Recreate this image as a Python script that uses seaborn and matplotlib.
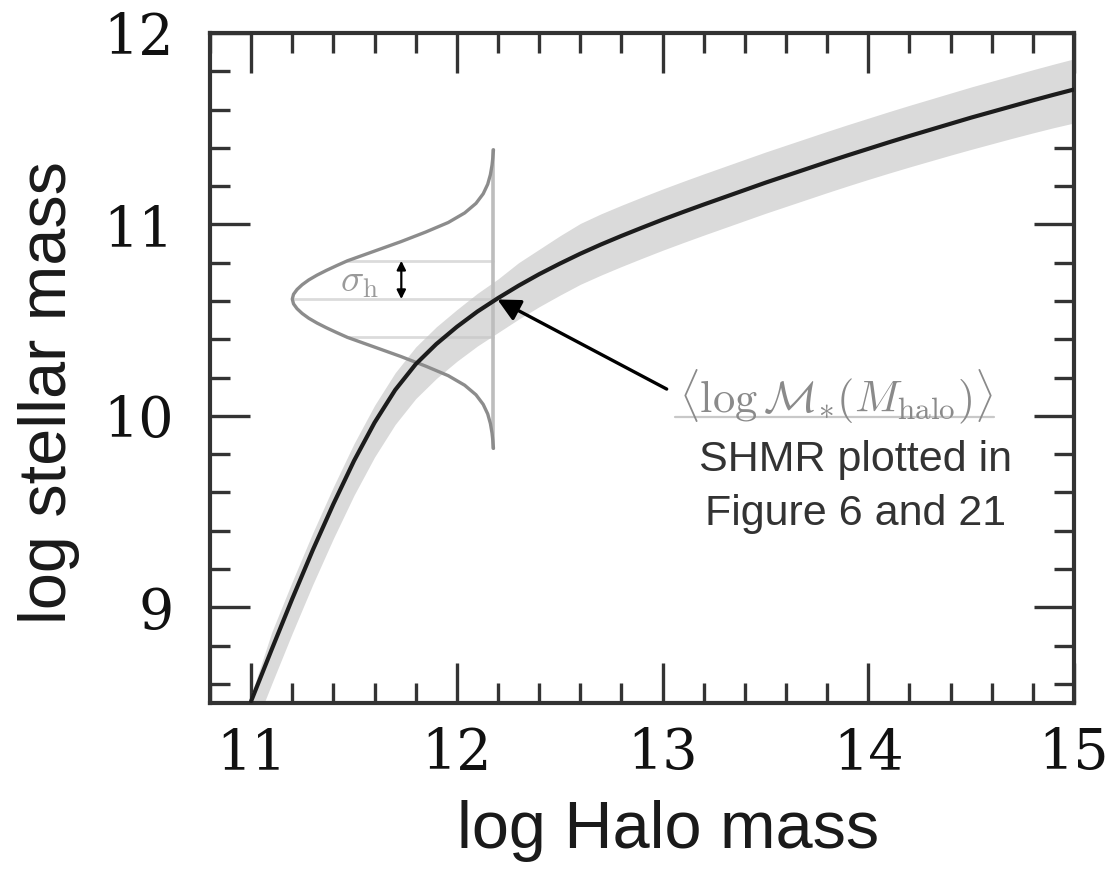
import numpy as np
import pandas as pd
import matplotlib
matplotlib.use("Agg")
import matplotlib.pyplot as plt
import seaborn as sns
from matplotlib.ticker import MultipleLocator

# ---- data ----
halo_mass = [11.0, 11.1, 11.2, 11.3, 11.4, 11.5, 11.6, 11.7, 11.8, 11.9,
             12.0, 12.1, 12.2, 12.3, 12.4, 12.5, 12.6, 12.7, 12.8, 12.9,
             13.0, 13.1, 13.2, 13.3, 13.4, 13.5, 13.6, 13.7, 13.8, 13.9,
             14.0, 14.1, 14.2, 14.3, 14.4, 14.5, 14.6, 14.7, 14.8, 14.9, 15.0]
stellar_mass = [8.51, 8.78, 9.045, 9.30, 9.54, 9.765, 9.965, 10.135, 10.27, 10.375,
                10.465, 10.545, 10.615, 10.68, 10.74, 10.795, 10.847, 10.895, 10.94, 10.983,
                11.025, 11.065, 11.104, 11.142, 11.180, 11.218, 11.254, 11.290, 11.326, 11.361,
                11.395, 11.429, 11.462, 11.494, 11.526, 11.558, 11.588, 11.618, 11.648, 11.677, 11.705]
band_upper = [8.54, 8.87, 9.135, 9.39, 9.63, 9.855, 10.055, 10.225, 10.36, 10.465,
              10.555, 10.64, 10.715, 10.80, 10.87, 10.94, 11.005, 11.055, 11.10, 11.143,
              11.185, 11.225, 11.264, 11.302, 11.340, 11.378, 11.414, 11.450, 11.486, 11.521,
              11.555, 11.589, 11.622, 11.654, 11.686, 11.718, 11.748, 11.778, 11.808, 11.837, 11.865]
band_lower = [8.33, 8.60, 8.865, 9.12, 9.36, 9.585, 9.785, 9.955, 10.09, 10.195,
              10.285, 10.365, 10.435, 10.505, 10.57, 10.63, 10.687, 10.735, 10.78, 10.823,
              10.865, 10.905, 10.944, 10.982, 11.020, 11.058, 11.094, 11.130, 11.166, 11.201,
              11.235, 11.268, 11.300, 11.331, 11.362, 11.392, 11.421, 11.450, 11.478, 11.505, 11.530]

# schematic scatter distribution drawn at one halo mass (symmetric profile)
gauss_x0 = 12.178
gauss_y0 = 10.61
gauss_dy_half = [0.0, 0.025, 0.05, 0.075, 0.1, 0.125, 0.15, 0.175, 0.2, 0.25,
                 0.3, 0.35, 0.4, 0.45, 0.5, 0.55, 0.6, 0.65, 0.7, 0.74, 0.78]
gauss_offset_half = [0.978, 0.972, 0.955, 0.930, 0.898, 0.858, 0.812, 0.762, 0.71, 0.58,
                     0.45, 0.33, 0.22, 0.14, 0.085, 0.05, 0.028, 0.015, 0.007, 0.003, 0.0]
sigma_h = 0.20

x_ticks = [11, 12, 13, 14, 15]
y_ticks = [9, 10, 11, 12]

# ---- figure ----
sns.set_theme(style="ticks")
plt.rcParams["font.family"] = ["Liberation Sans", "DejaVu Sans"]
plt.rcParams["mathtext.fontset"] = "cm"

fig = plt.figure(figsize=(11.16, 8.76), dpi=100)
ax = fig.add_axes([210 / 1116, 173 / 876, 864 / 1116, 670 / 876])

df = pd.DataFrame({"halo": halo_mass, "stellar": stellar_mass,
                   "lo": band_lower, "hi": band_upper})

ax.fill_between(df["halo"], df["lo"], df["hi"], color="#dadada", lw=0, zorder=1)

# full symmetric profile (mirror of the read half)
dy_full = [-d for d in gauss_dy_half[::-1]] + gauss_dy_half[1:]
off_full = gauss_offset_half[::-1] + gauss_offset_half[1:]
gdf = pd.DataFrame({"dy": dy_full, "off": off_full})
gdf["x"] = gauss_x0 - gdf["off"]
gdf["y"] = gauss_y0 + gdf["dy"]

# sigma lines
for level in (-1, 0, 1):
    yy = gauss_y0 + level * sigma_h
    xstart = np.interp(yy, gdf["y"], gdf["x"])
    ax.plot([xstart, gauss_x0], [yy, yy], color="#c4c4c4", lw=2.0, alpha=0.6, zorder=2)

ax.plot([gauss_x0, gauss_x0], [gauss_y0 - gauss_dy_half[-1], gauss_y0 + gauss_dy_half[-1]],
        color="#bdbdbd", lw=2.6, zorder=2)
sns.lineplot(data=gdf, x="x", y="y", sort=False, estimator=None, ax=ax,
             color="#8c8c8c", lw=2.4, zorder=3)

sns.lineplot(data=df, x="halo", y="stellar", sort=False, estimator=None, ax=ax,
             color="#1c1c1c", lw=3.0, zorder=4)

# sigma_h annotation
ax.annotate("", xy=(11.73, gauss_y0 + sigma_h), xytext=(11.73, gauss_y0),
            arrowprops=dict(arrowstyle="<|-|>", color="black", lw=1.6,
                            mutation_scale=13, shrinkA=0, shrinkB=0), zorder=5)
ax.text(11.43, 10.70, r"$\sigma_{\rm h}$", color="#9a9a9a", fontsize=28,
        ha="left", va="center", zorder=5)

# mean relation annotation
ax.annotate("", xy=(12.197, 10.608), xytext=(13.02, 10.14),
            arrowprops=dict(arrowstyle="-|>", color="black", lw=2.4,
                            mutation_scale=34, shrinkA=0, shrinkB=0), zorder=6)
ax.text(13.08, 10.10, r"$\langle\log\mathcal{M}_{*}(M_{\rm halo})\rangle$",
        color="#8a8a8a", fontsize=32, ha="left", va="center")
ax.plot([13.06, 14.61], [9.995, 9.995], color="#c8c8c8", lw=1.6)
ax.text(13.94, 9.63, "SHMR plotted in\nFigure 6 and 21", color="#333333",
        fontsize=31, ha="center", va="center", linespacing=1.45)

# axes
ax.set_xlim(10.8, 15.0)
ax.set_ylim(8.5, 12.0)
ax.set_xticks(x_ticks)
ax.set_yticks(y_ticks)
ax.xaxis.set_minor_locator(MultipleLocator(0.2))
ax.yaxis.set_minor_locator(MultipleLocator(0.2))
ax.tick_params(which="both", direction="in", top=True, right=True,
               color="#333333", width=2.4, labelcolor="#111111")
ax.tick_params(which="major", length=29, labelsize=40)
ax.tick_params(which="minor", length=14.5)
ax.tick_params(axis="x", which="major", pad=17)
ax.tick_params(axis="y", which="major", pad=26)
for lbl in ax.get_xticklabels() + ax.get_yticklabels():
    lbl.set_fontfamily("DejaVu Serif")
for sp in ax.spines.values():
    sp.set_linewidth(3)
    sp.set_color("#333333")

ax.set_xlabel("log Halo mass", fontsize=48, color="#1a1a1a")
ax.set_ylabel("log stellar mass", fontsize=48, color="#1a1a1a")
ax.xaxis.set_label_coords(0.530, -0.145)
ax.yaxis.set_label_coords(-0.150, 0.463)
ax.grid(False)

fig.savefig("out.png", dpi=100)
